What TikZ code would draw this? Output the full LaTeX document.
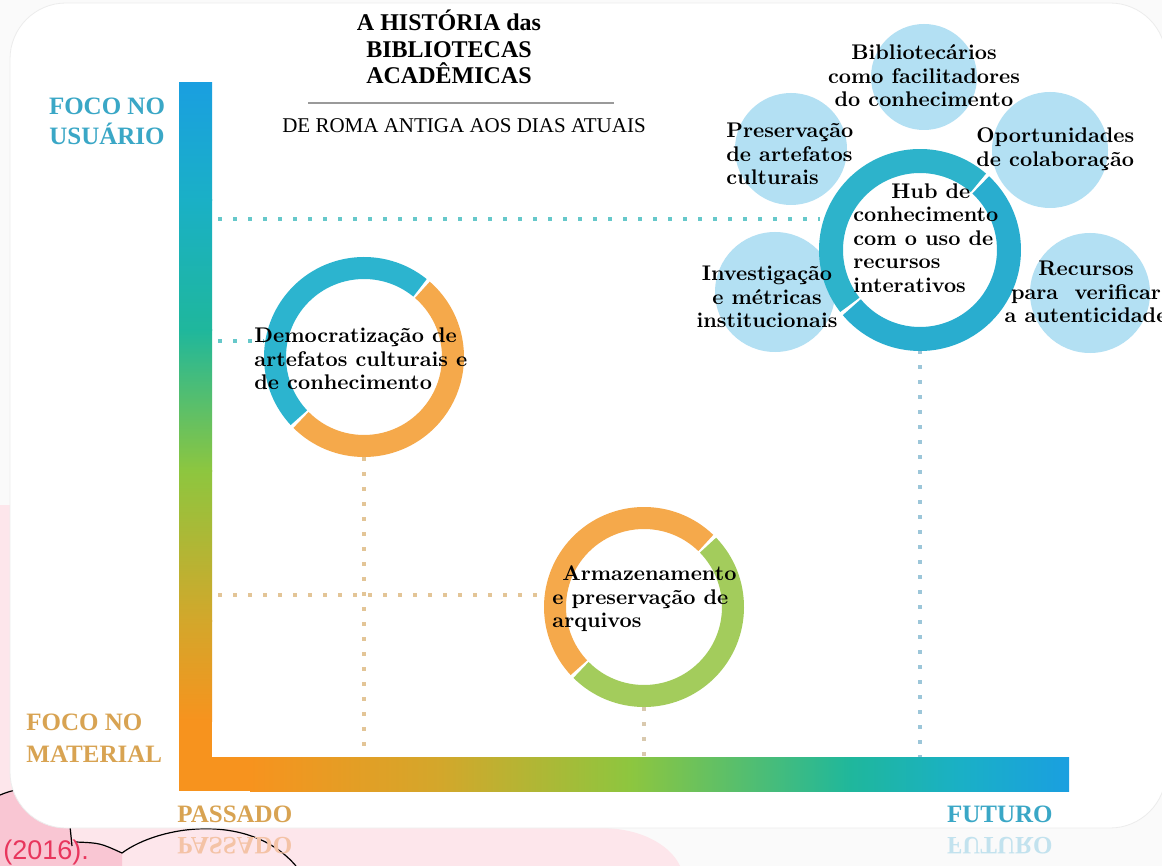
\documentclass[tikz,border=0pt]{standalone}
\usepackage{fontspec}
\usepackage{tikz}
\newfontfamily\headfont{Liberation Serif}
\newfontfamily\sansfont{Liberation Sans}
\definecolor{pagebg}{HTML}{FAFAFA}
\definecolor{pinkbg}{HTML}{FDE6EB}
\definecolor{pinkdeep}{HTML}{F9C6D3}
\definecolor{pinkblob}{HTML}{FCEAEE}
\definecolor{cardline}{HTML}{ECECEC}
\definecolor{axblue}{HTML}{1A9FE0}
\definecolor{axsky}{HTML}{1AB0C6}
\definecolor{axteal}{HTML}{1FB79C}
\definecolor{axgreen}{HTML}{8DC63F}
\definecolor{axochre}{HTML}{D3A72B}
\definecolor{axorange}{HTML}{F7931E}
\definecolor{userblue}{HTML}{3AA7C6}
\definecolor{matgold}{HTML}{D8A352}
\definecolor{ringblue}{HTML}{2CB4CF}
\definecolor{hubblue}{HTML}{2DB3CB}
\definecolor{hubblue2}{HTML}{29ADCF}
\definecolor{ringorange}{HTML}{F5A94B}
\definecolor{ringgreen}{HTML}{A3CC5C}
\definecolor{bubble}{HTML}{B3E0F3}
\definecolor{dotteal}{HTML}{66C8CA}
\definecolor{dotsky}{HTML}{9CC6D9}
\definecolor{dottan}{HTML}{E3C597}
\definecolor{dotgrey}{HTML}{D9C9AE}
\definecolor{rulegrey}{HTML}{9A9A9A}
\definecolor{citered}{HTML}{E8365D}
\definecolor{passmirror}{HTML}{F4C3A6}
\definecolor{futmirror}{HTML}{C2E2EE}
\newcommand\bubfont{\bfseries\fontsize{10.6}{11.8}\selectfont}
\tikzset{
  ringnode/.style={circle, minimum size=100pt, inner sep=0pt},
  ringarc/.style={line width=11pt, draw=#1},
  bubblenode/.style={circle, fill=bubble, minimum size=#1, inner sep=0pt},
  bubtxt/.style={font=\bubfont, text=black, inner sep=0pt},
  dotline/.style={draw=#1, line width=2pt, dash pattern=on 2pt off 5.5pt},
  axtxt/.style={font=\headfont\bfseries\fontsize{12.5}{15}\selectfont, text=#1, inner sep=0pt},
  titletxt/.style={font=\headfont\bfseries\fontsize{12}{13.3}\selectfont, align=center, inner sep=0pt},
}

\begin{document}
\begin{tikzpicture}[x=0.5pt, y=0.5pt]
  \useasboundingbox (0,0) rectangle (1162,-866);
  % page behind the card
  \fill[pagebg] (0,0) rectangle (1162,-866);
  \fill[pinkbg] (0,-505) -- (600,-505) -- (600,-828)
    .. controls (645,-828) and (672,-848) .. (680,-866) -- (0,-866) -- cycle;
  \fill[pinkdeep] (0,-795) .. controls (40,-778) and (68,-800) .. (72,-842)
    .. controls (95,-843) .. (122,-853) -- (122,-866) -- (0,-866) -- cycle;
  \draw[black, line width=0.6pt] (0,-795) .. controls (40,-778) and (64,-800) .. (70,-826) -- (72,-846);
  \draw[black, line width=0.6pt] (76,-842) .. controls (100,-843) .. (122,-853)
    .. controls (160,-825) and (250,-812) .. (296,-866);
  % card
  \draw[draw=cardline, fill=white, rounded corners=28pt] (10,-3) rectangle (1166,-828);

  % axes
  \shade[top color=axblue, bottom color=axsky] (179,-83) rectangle (212,-201);
  \shade[top color=axsky, bottom color=axteal] (179,-200) rectangle (212,-331);
  \shade[top color=axteal, bottom color=axgreen] (179,-330) rectangle (212,-471);
  \shade[top color=axgreen, bottom color=axochre] (179,-470) rectangle (212,-621);
  \shade[top color=axochre, bottom color=axorange] (179,-620) rectangle (212,-721);
  \fill[axorange] (179,-720) rectangle (212,-791);
  \fill[axorange] (179,-757) rectangle (251,-791);
  \shade[left color=axorange, right color=axochre] (250,-757) rectangle (441,-791);
  \shade[left color=axochre, right color=axgreen] (440,-757) rectangle (631,-791);
  \shade[left color=axgreen, right color=axteal] (630,-757) rectangle (851,-791);
  \shade[left color=axteal, right color=axsky] (850,-757) rectangle (961,-791);
  \shade[left color=axsky, right color=axblue] (960,-757) rectangle (1069,-791);
  \coordinate (xbar) at (0,-757);

  % bubbles round the hub
  \node[bubblenode=53pt] (bib) at (924,-77) {};
  \node[bubblenode=56pt] (pres) at (791,-149) {};
  \node[bubblenode=58pt] (opor) at (1050,-150) {};
  \node[bubblenode=60pt] (inv) at (775,-292) {};
  \node[bubblenode=60pt] (rec) at (1090,-293) {};

  % rings
  \node[ringnode] (demo) at (364,-357) {};
  \node[ringnode] (arm) at (644,-607) {};
  \node[ringnode] (hub) at (920,-250) {};

  % dotted guides
  \coordinate (ul) at (218,-219);
  \coordinate (dl) at (218,-341);
  \coordinate (al) at (218,-595);
  \draw[dotline=dotteal] (ul) -- (ul -| hub.west);
  \draw[dotline=dotteal] (dl) -- (dl -| demo.west);
  \draw[dotline=dottan] (al) -- (al -| arm.west);
  \draw[dotline=dottan] (demo.south) -- (demo.south |- xbar);
  \draw[dotline=dotgrey] (arm.south) -- (arm.south |- xbar);
  \draw[dotline=dotsky] (hub.south) -- (hub.south |- xbar);

  \draw[ringarc=ringblue] ([shift={(51:89)}]demo.center) arc[start angle=51, end angle=223, radius=89];
  \draw[ringarc=ringorange] ([shift={(225:89)}]demo.center) arc[start angle=225, end angle=409, radius=89];
  \draw[ringarc=ringorange] ([shift={(46:89)}]arm.center) arc[start angle=46, end angle=223, radius=89];
  \draw[ringarc=ringgreen] ([shift={(225:89)}]arm.center) arc[start angle=225, end angle=404, radius=89];
  \draw[ringarc=hubblue, line width=12pt] ([shift={(49:89)}]hub.center) arc[start angle=49, end angle=218, radius=89];
  \draw[ringarc=hubblue2, line width=12pt] ([shift={(220:89)}]hub.center) arc[start angle=220, end angle=407, radius=89];

  % texts
  \node[bubtxt, align=center] (bibtxt) at (924,-76) {Bibliotecários\\como facilitadores\\do conhecimento};
  \node[bubtxt, align=left, anchor=west] (prestxt) at (726,-154) {Preservação\\de artefatos\\culturais};
  \node[bubtxt, align=left, anchor=west] (oportxt) at (976,-149) {Oportunidades\\de colaboração};
  \node[bubtxt, align=left, anchor=west] (hubtxt) at (853,-238)
    {\hspace*{19pt}Hub de\\conhecimento\\com o uso de\\recursos\\interativos};
  \node[bubtxt, align=center] (invtxt) at (767,-297) {Investigação\\e métricas\\institucionais};
  \node[bubtxt, align=center] (rectxt) at (1086,-292) {Recursos\\para~~verificar\\a autenticidade};
  \node[bubtxt, align=left, anchor=west] (demotxt) at (254,-359)
    {Democratização de\\artefatos culturais e\\de conhecimento};
  \node[bubtxt, align=left, anchor=west] (armtxt) at (552,-599)
    {\hspace*{5pt}Armazenamento\\e preservação de\\arquivos};

  \node[titletxt] (title) at (449,-47) {A HISTÓRIA das\\BIBLIOTECAS\\ACADÊMICAS};
  \draw[rulegrey, line width=1pt] (308,-103) -- (614,-103);
  \node[font=\headfont\fontsize{10.5}{12}\selectfont, inner sep=0pt] (subtitle) at (464,-126)
    {DE ROMA ANTIGA AOS DIAS ATUAIS};

  \node[axtxt=userblue, align=center] (usuario) at (107,-121) {FOCO NO\\USUÁRIO};
  \node[axtxt=matgold, align=left, anchor=west, font=\headfont\bfseries\fontsize{12.5}{16}\selectfont]
    (material) at (26,-738) {FOCO NO\\MATERIAL};
  \node[axtxt=matgold, anchor=west] (passado) at (177,-814) {PASSADO};
  \node[axtxt=userblue, anchor=east] (futuro) at (1053,-814) {FUTURO};

  % reflections below the card
  \begin{scope}[shift={(0,-830)}, yscale=-1]
    \node[axtxt=passmirror, anchor=west, transform shape] (passrefl) at (177,16) {PASSADO};
    \node[axtxt=futmirror, anchor=east, transform shape] (futrefl) at (1053,16) {FUTURO};
  \end{scope}
  \node[font=\sansfont\fontsize{13.5}{15}\selectfont, text=citered, anchor=west, inner sep=0pt]
    (cite) at (3,-853) {(2016).};
\end{tikzpicture}
\end{document}
